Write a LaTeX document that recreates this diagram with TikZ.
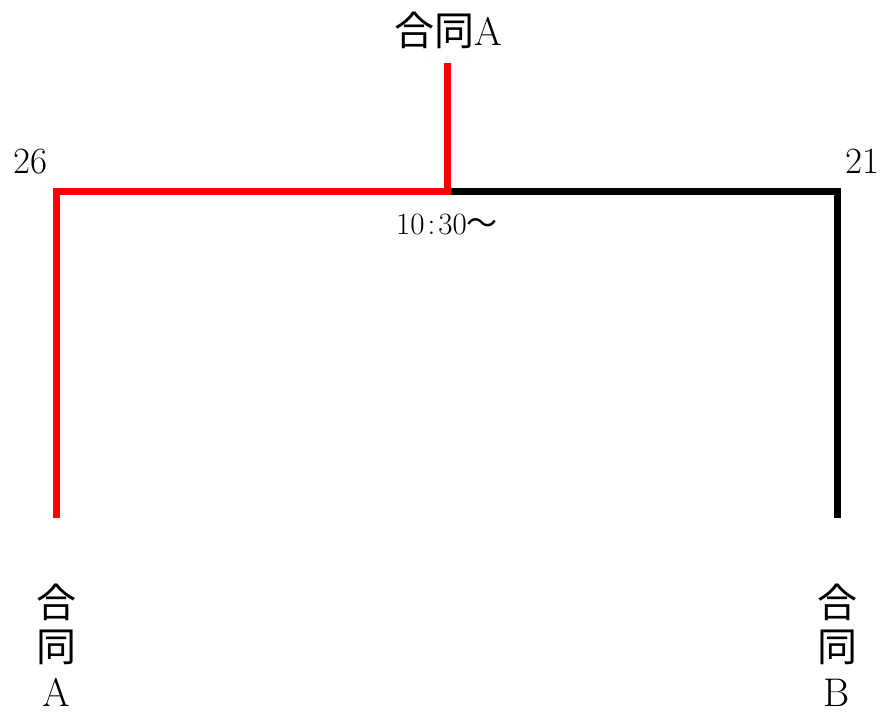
\documentclass[tikz,border=0pt]{standalone}
\usepackage{fontspec}
\newfontfamily\cjk{Noto Sans CJK JP}
\begin{document}
\begin{tikzpicture}[x=1pt,y=-1pt,
  lab/.style={inner sep=0pt,font=\fontsize{40}{45}\selectfont},
  score/.style={inner sep=0pt,font=\fontsize{37}{40}\selectfont},
  time/.style={inner sep=0pt,font=\fontsize{31}{34}\selectfont},
  win/.style={draw=red,line width=7pt,line join=miter,line cap=butt},
  lose/.style={draw=black,line width=7pt,line join=miter,line cap=butt}]
\useasboundingbox (0,0) rectangle (882,711);
% coordinates of the bracket
\coordinate (top) at (447,63);
\coordinate (mid) at (447,192);
\coordinate (lc) at (56,192);
\coordinate (lb) at (56,518);
\coordinate (rc) at (837,192);
\coordinate (rb) at (837,518);
% lines
\draw[lose] (mid) -- (rc) -- (rb);
\draw[win] (top) -- (mid) -- (lc) -- (lb);
% labels
\node[lab,anchor=base] (winner) at (448,46) {{\cjk 合同}A};
\node[score,anchor=base] (sA) at (30,174) {26};
\node[score,anchor=base] (sB) at (862,174) {21};
\node[time,anchor=base] (t) at (447,234) {10\kern3pt:\kern3pt30{\cjk ～}};
\node[lab,anchor=base] (tA1) at (56,617) {\cjk 合};
\node[lab,anchor=base] (tA2) at (56,661) {\cjk 同};
\node[lab,anchor=base] (tA3) at (56,706) {A};
\node[lab,anchor=base] (tB1) at (837,617) {\cjk 合};
\node[lab,anchor=base] (tB2) at (837,661) {\cjk 同};
\node[lab,anchor=base] (tB3) at (837,706) {B};
\end{tikzpicture}
\end{document}
